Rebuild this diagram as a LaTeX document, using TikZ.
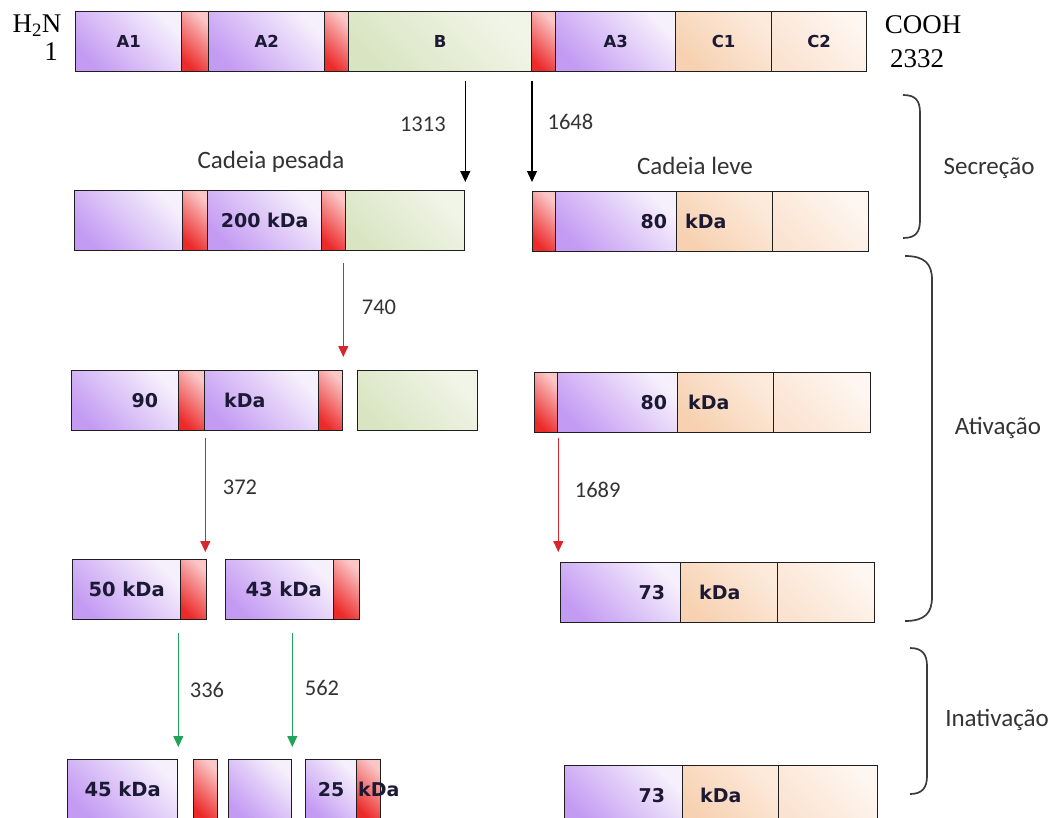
\documentclass[tikz,border=0pt]{standalone}
\usepackage{fontspec}
\setmainfont{Carlito}
\newfontfamily\boxfont{DejaVu Sans}
\newfontfamily\termfont{Liberation Serif}
\usetikzlibrary{arrows.meta}

\definecolor{lilac}{HTML}{C49BF3}
\definecolor{lilacpale}{HTML}{F6F0FC}
\definecolor{reddark}{HTML}{EC2A2A}
\definecolor{redpale}{HTML}{FAC6C6}
\definecolor{sage}{HTML}{D9E5C2}
\definecolor{sagepale}{HTML}{F1F5E8}
\definecolor{peach}{HTML}{F7D1B1}
\definecolor{peachpale}{HTML}{FCEADB}
\definecolor{cream}{HTML}{FBE3D1}
\definecolor{creampale}{HTML}{FEF7F1}
\definecolor{edge}{HTML}{1E1E1E}
\definecolor{navy}{HTML}{1B1934}
\definecolor{numgray}{HTML}{333333}
\definecolor{cutred}{HTML}{D9262E}
\definecolor{cutgreen}{HTML}{22A35A}
\definecolor{bracegray}{HTML}{3C3C3C}

\begin{document}
\begin{tikzpicture}[
  x=1pt, y=-1pt,
  every node/.style={font=\fontsize{22.5}{24}\selectfont, text=numgray},
  seg/.style={draw=edge, line width=1.3pt, inner sep=0pt, anchor=north west, minimum height=60pt, font=\boxfont\bfseries\fontsize{19}{19}\selectfont, text=navy},
  lil/.style={seg, top color=lilacpale, bottom color=lilac, shading angle=-45},
  rd/.style={seg, top color=redpale, bottom color=reddark, shading angle=-45},
  grn/.style={seg, top color=sagepale, bottom color=sage, shading angle=-45},
  pch/.style={seg, top color=peachpale, bottom color=peach, shading angle=-45},
  pale/.style={seg, top color=creampale, bottom color=cream, shading angle=-45},
  toprow/.style={font=\boxfont\bfseries\fontsize{16.5}{16.5}\selectfont},
  small/.style={font=\boxfont\bfseries\fontsize{19.5}{19.5}\selectfont},
  lbl/.style={inner sep=0pt, font=\boxfont\bfseries\fontsize{19}{19}\selectfont, text=navy},
  num/.style={inner sep=0pt},
  word/.style={font=\fontsize{25}{27}\selectfont},
  term/.style={inner sep=0pt, font=\termfont\fontsize{27}{27}\selectfont, text=black},
  cut/.style={-{Triangle[width=10pt,length=11pt]}, line width=1.3pt},
  brace/.style={draw=bracegray, line width=1.7pt},
]
\useasboundingbox (0,0) rectangle (1056,817);
\clip (0,0) rectangle (1056,817);

% Full chain
\node[lil, minimum width=106pt, toprow] (a1) at (75,11) {A1};
\node[rd, minimum width=27pt] (r1) at (181,11) {};
\node[lil, minimum width=116pt, toprow] (a2) at (208,11) {A2};
\node[rd, minimum width=24pt] (r2) at (324,11) {};
\node[grn, minimum width=183pt, toprow] (bdom) at (348,11) {B};
\node[rd, minimum width=24pt] (r3) at (531,11) {};
\node[lil, minimum width=120pt, toprow] (a3) at (555,11) {A3};
\node[pch, minimum width=96pt, toprow] (c1) at (675,11) {C1};
\node[pale, minimum width=95pt, toprow] (c2) at (771,11) {C2};

\node[term] (nterm) at (37,26) {H\textsubscript{2}N};
\node[term] (nfirst) at (51,52) {1};
\node[term] (cterm) at (923,25) {COOH};
\node[term] (clast) at (917,59) {2332};

% Secretion: heavy chain
\node[lil, minimum width=108pt] (h1) at (74,190) {};
\node[rd, minimum width=25pt] (hr1) at (182,190) {};
\node[lil, minimum width=114pt] (h2) at (207,190) {200 kDa};
\node[rd, minimum width=24pt] (hr2) at (321,190) {};
\node[grn, minimum width=119pt] (hb) at (345,190) {};
\node[word] (heavy) at (271,162) {Cadeia pesada};

% Secretion: light chain
\node[rd, minimum width=23pt] (lr) at (532,191) {};
\node[lil, minimum width=121pt] (l1) at (555,191) {};
\node[pch, minimum width=96pt] (l2) at (676,191) {};
\node[pale, minimum width=96pt] (l3) at (772,191) {};
\node[lbl, anchor=east] (l80) at ([xshift=-10pt]l1.east) {80};
\node[lbl, anchor=west] (lkda) at ([xshift=9pt]l2.west) {kDa};
\node[word] (light) at (695,166) {Cadeia leve};

% Activation: first cut
\node[lil, minimum width=107pt] (v1) at (71,370) {};
\node[rd, minimum width=26pt] (vr1) at (178,370) {};
\node[lil, minimum width=114pt] (v2) at (204,370) {};
\node[rd, minimum width=24pt] (vr2) at (318,370) {};
\node[grn, minimum width=120pt] (vb) at (357,370) {};
\node[lbl, anchor=east] (v90) at ([xshift=-21pt]v1.east) {90};
\node[lbl, anchor=west] (vkda) at ([xshift=20pt]v2.west) {kDa};

\node[rd, minimum width=23pt] (wr) at (534,372) {};
\node[lil, minimum width=120pt] (w1) at (557,372) {};
\node[pch, minimum width=96pt] (w2) at (677,372) {};
\node[pale, minimum width=97pt] (w3) at (773,372) {};
\node[lbl, anchor=east] (w80) at ([xshift=-11pt]w1.east) {80};
\node[lbl, anchor=west] (wkda) at ([xshift=11pt]w2.west) {kDa};

% Activation: second cut
\node[lil, minimum width=108pt, small] (p50) at (72,559) {50 kDa};
\node[rd, minimum width=26pt] (p50r) at (180,559) {};
\node[lil, minimum width=108pt, small] (p43) at (225,559) {\hspace*{8pt}43 kDa};
\node[rd, minimum width=26pt] (p43r) at (333,559) {};

\node[lil, minimum width=120pt] (q1) at (560,562) {};
\node[pch, minimum width=97pt] (q2) at (680,562) {};
\node[pale, minimum width=97pt] (q3) at (777,562) {};
\node[lbl, anchor=east] (q73) at ([xshift=-16pt]q1.east) {73};
\node[lbl, anchor=west] (qkda) at ([xshift=19pt]q2.west) {kDa};

% Inactivation
\node[lil, minimum width=110pt, small] (s45) at (67,759) {45 kDa};
\node[rd, minimum width=24pt] (sr) at (193,759) {};
\node[lil, minimum width=63pt] (sp) at (228,759) {};
\node[lil, minimum width=51pt] (s25) at (305,759) {25};
\node[rd, minimum width=24pt] (s25r) at (356,759) {};
\node[lbl, anchor=west] (s25kda) at ([xshift=2pt]s25r.west) {kDa};

\node[lil, minimum width=118pt] (t1) at (564,765) {};
\node[pch, minimum width=96pt] (t2) at (682,765) {};
\node[pale, minimum width=99pt] (t3) at (778,765) {};
\node[lbl, anchor=east] (t73) at ([xshift=-18pt]t1.east) {73};
\node[lbl, anchor=west] (tkda) at ([xshift=18pt]t2.west) {kDa};

% Cuts
\draw[cut, shorten <=9pt, shorten >=8pt] (bdom.south -| hb.east) -- (hb.north east)
  node[num, pos=0.44, left=19pt] {1313};
\draw[cut, shorten <=9pt, shorten >=9pt] (r3.south -| lr.west) -- (lr.north west)
  node[num, pos=0.42, right=15pt] {1648};
\draw[cut, cutred, line width=1.1pt, shorten <=12pt, shorten >=13pt] (hr2.south -| vr2.east) -- (vr2.north east)
  node[num, pos=0.475, right=18pt] {740};
\draw[cut, cutred, line width=1.1pt, shorten <=7pt, shorten >=7pt] (vr1.south east) -- (vr1.south east |- p50r.north)
  node[num, pos=0.44, right=17pt] {372};
\draw[cut, cutred, line width=1.1pt, shorten <=5pt, shorten >=10pt] (wr.south east) -- (wr.south east |- q1.north)
  node[num, pos=0.44, right=16pt] {1689};
\draw[cut, cutgreen, line width=1.1pt, shorten <=13pt, shorten >=12pt] (s45.north east |- p50.south) -- (s45.north east)
  node[num, pos=0.5, right=11pt] {336};
\draw[cut, cutgreen, line width=1.1pt, shorten <=13pt, shorten >=12pt] (sp.north east |- p43.south) -- (sp.north east)
  node[num, pos=0.49, right=12pt] {562};

% Phases
\draw[brace] (903,95) .. controls (916,95) and (920,101) .. (920,113) -- (920,220) .. controls (920,232) and (916,238) .. (903,238);
\draw[brace] (905,256) .. controls (925,256) and (932,264) .. (932,280) -- (932,597) .. controls (932,613) and (925,621) .. (905,621);
\draw[brace] (910,648) .. controls (922,648) and (927,654) .. (927,666) -- (927,776) .. controls (927,788) and (922,794) .. (910,794);
\node[word] (secr) at (989,168) {Secreção};
\node[word] (ativ) at (998,428) {Ativação};
\node[word] (inat) at (997,720) {Inativação};
\end{tikzpicture}
\end{document}
